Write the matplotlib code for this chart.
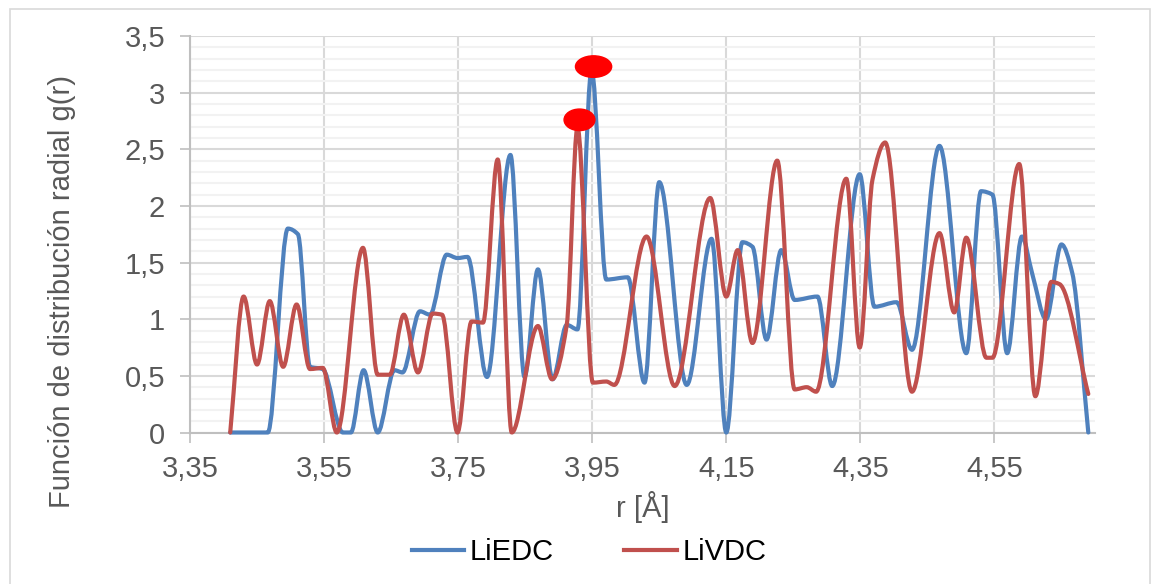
import numpy as np
import matplotlib
matplotlib.use('Agg')
import matplotlib.pyplot as plt
from matplotlib.path import Path
from matplotlib.patches import PathPatch, Ellipse, Rectangle

plt.rcParams['font.family'] = ['Liberation Sans', 'DejaVu Sans']

# datos
r_liedc = [3.410, 3.450, 3.466, 3.496, 3.511, 3.529, 3.548, 3.578, 3.590, 3.609,
           3.630, 3.655, 3.667, 3.693, 3.708, 3.733, 3.749, 3.764, 3.793, 3.828,
           3.849, 3.869, 3.891, 3.912, 3.928, 3.949, 3.971, 4.003, 4.028, 4.050,
           4.091, 4.128, 4.150, 4.174, 4.189, 4.210, 4.232, 4.252, 4.286, 4.308,
           4.349, 4.371, 4.404, 4.427, 4.468, 4.508, 4.530, 4.547, 4.569, 4.591,
           4.606, 4.627, 4.650, 4.666, 4.690]
g_liedc = [0, 0, 0, 1.80, 1.75, 0.58, 0.56, 0, 0, 0.55,
           0, 0.55, 0.53, 1.07, 1.04, 1.57, 1.54, 1.55, 0.49, 2.45,
           0.49, 1.44, 0.47, 0.95, 0.91, 3.20, 1.35, 1.37, 0.44, 2.21,
           0.42, 1.71, 0, 1.68, 1.64, 0.82, 1.61, 1.17, 1.20, 0.41,
           2.28, 1.11, 1.15, 0.73, 2.53, 0.70, 2.13, 2.10, 0.70, 1.73,
           1.41, 1.00, 1.66, 1.41, 0]

r_livdc = [3.410, 3.430, 3.450, 3.469, 3.489, 3.509, 3.529, 3.548, 3.569, 3.608,
           3.630, 3.648, 3.669, 3.690, 3.712, 3.726, 3.749, 3.770, 3.787, 3.809,
           3.830, 3.869, 3.890, 3.912, 3.928, 3.951, 3.971, 3.983, 4.031, 4.073,
           4.126, 4.150, 4.167, 4.189, 4.226, 4.252, 4.270, 4.284, 4.329, 4.349,
           4.368, 4.387, 4.427, 4.468, 4.490, 4.508, 4.538, 4.547, 4.587, 4.611,
           4.635, 4.647, 4.690]
g_livdc = [0, 1.20, 0.60, 1.16, 0.58, 1.13, 0.56, 0.57, 0, 1.63,
           0.51, 0.51, 1.04, 0.53, 1.05, 1.04, 0, 0.98, 0.97, 2.41,
           0, 0.94, 0.47, 0.95, 2.69, 0.44, 0.45, 0.42, 1.73, 0.41,
           2.07, 1.20, 1.61, 0.79, 2.40, 0.38, 0.40, 0.36, 2.24, 0.75,
           2.23, 2.56, 0.36, 1.76, 1.06, 1.72, 0.66, 0.66, 2.37, 0.32,
           1.33, 1.31, 0.34]

x_ticks = [3.35, 3.55, 3.75, 3.95, 4.15, 4.35, 4.55]
x_labels = ['3,35', '3,55', '3,75', '3,95', '4,15', '4,35', '4,55']
y_ticks = [0, 0.5, 1, 1.5, 2, 2.5, 3, 3.5]
y_labels = ['0', '0,5', '1', '1,5', '2', '2,5', '3', '3,5']

# puntos marcados en rojo (picos)
marca_r = [3.952, 3.931]
marca_g = [3.23, 2.76]

azul = '#4F81BD'
rojo = '#C0504D'
gris_txt = '#595959'


def linea_suave(xs, ys):
    # curva suavizada sin sobrepasar los puntos (tangentes tipo Fritsch-Carlson)
    x = np.asarray(xs, float)
    y = np.asarray(ys, float)
    h = np.diff(x)
    d = np.diff(y) / h
    n = len(x)
    m = np.zeros(n)
    m[0], m[-1] = d[0], d[-1]
    for i in range(1, n - 1):
        if d[i - 1] * d[i] > 0:
            w1 = 2 * h[i] + h[i - 1]
            w2 = h[i] + 2 * h[i - 1]
            m[i] = (w1 + w2) / (w1 / d[i - 1] + w2 / d[i])
    verts = [(x[0], y[0])]
    codes = [Path.MOVETO]
    for i in range(n - 1):
        verts += [(x[i] + h[i] / 3, y[i] + m[i] * h[i] / 3),
                  (x[i + 1] - h[i] / 3, y[i + 1] - m[i + 1] * h[i] / 3),
                  (x[i + 1], y[i + 1])]
        codes += [Path.CURVE4] * 3
    return Path(verts, codes)


fig = plt.figure(figsize=(11.54, 5.84), dpi=100)
ax = fig.add_axes([190 / 1154, 1 - 432.5 / 584, 905 / 1154, 396.5 / 584])

ax.set_xlim(3.35, 4.70)
ax.set_ylim(0, 3.5)

ax.set_yticks(np.arange(0, 3.51, 0.1), minor=True)
ax.set_yticks(y_ticks)
ax.set_yticklabels(y_labels)
ax.set_xticks(x_ticks)
ax.set_xticklabels(x_labels)

ax.grid(which='minor', axis='y', color='#f2f2f2', lw=1.5)
ax.grid(which='major', axis='both', color='#d9d9d9', lw=1.5)
ax.set_axisbelow(True)

for s in ['top', 'right']:
    ax.spines[s].set_visible(False)
for s in ['left', 'bottom']:
    ax.spines[s].set_color('#bfbfbf')
    ax.spines[s].set_linewidth(1.5)

ax.tick_params(axis='both', which='major', direction='out', length=7, width=1.2,
               color='#bfbfbf', labelcolor=gris_txt, labelsize=21)
ax.tick_params(axis='y', which='major', pad=11)
ax.tick_params(axis='x', which='major', pad=9)
ax.tick_params(axis='y', which='minor', length=0)

for xs, ys, c, lab in [(r_liedc, g_liedc, azul, 'LiEDC'), (r_livdc, g_livdc, rojo, 'LiVDC')]:
    pp = PathPatch(linea_suave(xs, ys), fill=False, edgecolor=c, lw=3,
                   capstyle='round', joinstyle='round', clip_on=False, zorder=3)
    ax.add_patch(pp)
    ax.plot([], [], color=c, lw=3, label=lab)

for mx, my, w in zip(marca_r, marca_g, [0.054, 0.046]):
    ax.add_patch(Ellipse((mx, my), w, 0.19, color='#ff0000', zorder=5, clip_on=False))

ax.set_xlabel('r [Å]', fontsize=21, color=gris_txt, labelpad=6)
fig.text(62 / 1154, 1 - 291 / 584, 'Función de distribución radial g(r)', rotation=90,
         ha='center', va='center', fontsize=21, color=gris_txt)

leg = fig.legend(loc='center', bbox_to_anchor=(589 / 1154, 1 - 552 / 584), ncol=2,
                 frameon=False, fontsize=21, handlelength=1.8, handletextpad=0.2,
                 columnspacing=2.4)
for t in leg.get_texts():
    t.set_color('#000000')

# borde del area del grafico
fig.patches.append(Rectangle((10 / 1154, -0.02), 1140 / 1154, 1 - 9 / 584 + 0.02,
                             transform=fig.transFigure, fill=False,
                             edgecolor='#d9d9d9', lw=1.2))

fig.savefig('out.png', dpi=100)
